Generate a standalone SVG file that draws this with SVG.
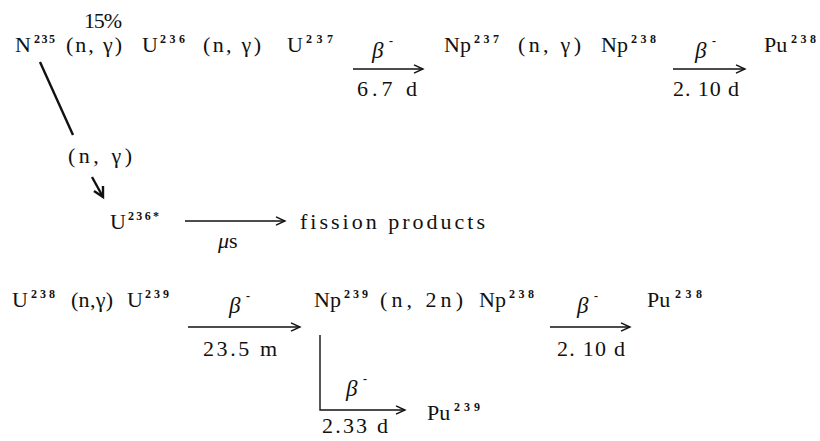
<svg xmlns="http://www.w3.org/2000/svg" width="820" height="441" viewBox="0 0 820 441">
<defs>
<style>
text{font-family:"Liberation Serif","DejaVu Serif","Times New Roman",serif;font-size:22px;fill:#111}
.sup{font-size:12px;font-weight:bold}
.b{font-style:italic;font-size:23px}
.m{font-size:12px;font-weight:bold}
.ln{stroke:#111;stroke-width:1.4;fill:none}
.thick{stroke:#111;stroke-width:2.4;fill:none}
</style>
<marker id="ah" markerUnits="userSpaceOnUse" markerWidth="12" markerHeight="10" refX="10" refY="5" orient="auto">
<path d="M1,0.8 L10,5 L1,9.2" fill="none" stroke="#111" stroke-width="1.4"/>
</marker>
</defs>
<rect width="820" height="441" fill="#fff"/>
<g font-family="'Liberation Serif','DejaVu Serif',serif">
<g id="n235">
<text x="84" y="28" textLength="38">15%</text>
<text x="15" y="52">N</text><text class="sup" x="34" y="43" textLength="21">235</text>
</g>
<g id="u236"><text x="142" y="52">U</text><text class="sup" x="160" y="43" textLength="25">236</text></g>
<g id="u237"><text x="287" y="52">U</text><text class="sup" x="306" y="43" textLength="27">237</text></g>
<g id="np237"><text x="444" y="52">Np</text><text class="sup" x="474" y="43" textLength="25">237</text></g>
<g id="np238"><text x="601" y="52">Np</text><text class="sup" x="631" y="43" textLength="25">238</text></g>
<g id="pu238"><text x="764" y="52">Pu</text><text class="sup" x="791" y="43" textLength="25">238</text></g>
<g id="u236star"><text x="110" y="229">U</text><text class="sup" x="128" y="220" textLength="31">236*</text></g>
<g id="fission"><text x="300" y="229" textLength="185">fission products</text></g>
<g id="u238"><text x="12" y="307">U</text><text class="sup" x="31" y="298" textLength="24">238</text></g>
<g id="u239"><text x="127" y="307">U</text><text class="sup" x="145" y="298" textLength="24">239</text></g>
<g id="np239"><text x="314" y="307">Np</text><text class="sup" x="344" y="298" textLength="24">239</text></g>
<g id="np238b"><text x="479" y="307">Np</text><text class="sup" x="509" y="298" textLength="25">238</text></g>
<g id="pu238b"><text x="647" y="307">Pu</text><text class="sup" x="675" y="298" textLength="27">238</text></g>
<g id="pu239"><text x="427" y="420">Pu</text><text class="sup" x="454" y="411" textLength="26">239</text></g>

<g id="connectors">
<text x="66" y="52" textLength="56">(n, γ)</text>
<text x="203" y="52" textLength="58">(n, γ)</text>
<line class="ln" x1="353" y1="69" x2="423" y2="69" marker-end="url(#ah)"/>
<text class="b" x="372" y="58">β</text><text class="m" x="389" y="45">-</text>
<text x="357" y="96" textLength="60">6.7 d</text>
<text x="518" y="52" textLength="63">(n, γ)</text>
<line class="ln" x1="673" y1="69" x2="745" y2="69" marker-end="url(#ah)"/>
<text class="b" x="695" y="58">β</text><text class="m" x="712" y="45">-</text>
<text x="673" y="96" textLength="66">2. 10 d</text>

<line class="thick" x1="40" y1="62" x2="73" y2="135"/>
<text x="68" y="163" textLength="64">(n, γ)</text>
<line class="thick" x1="92" y1="177" x2="103" y2="197"/>
<polyline class="thick" points="94,191 103,197 103,186"/>
<line class="ln" x1="185" y1="221" x2="285" y2="221" marker-end="url(#ah)"/>
<text x="218" y="248"><tspan font-style="italic">μ</tspan>s</text>

<text x="71" y="307" textLength="42">(n,γ)</text>
<line class="ln" x1="188" y1="327" x2="300" y2="327" marker-end="url(#ah)"/>
<text class="b" x="229" y="313">β</text><text class="m" x="246" y="300">-</text>
<text x="203" y="356" textLength="74">23.5 m</text>
<text x="380" y="307" textLength="83">(n, 2n)</text>
<line class="ln" x1="550" y1="327" x2="630" y2="327" marker-end="url(#ah)"/>
<text class="b" x="577" y="313">β</text><text class="m" x="594" y="300">-</text>
<text x="557" y="356" textLength="68">2. 10 d</text>
<polyline class="ln" points="320,335 320,410 405,410" marker-end="url(#ah)"/>
<text class="b" x="346" y="396">β</text><text class="m" x="363" y="383">-</text>
<text x="322" y="433" textLength="66">2.33 d</text>
</g>
</g>
</svg>
